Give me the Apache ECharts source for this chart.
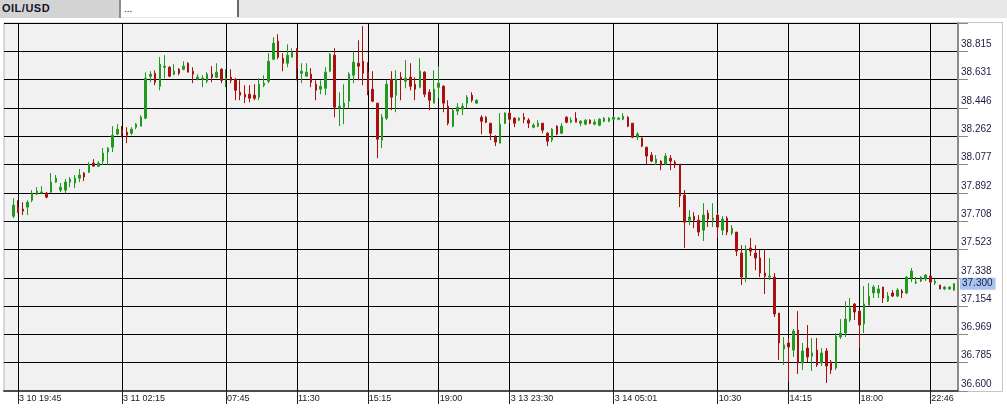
<!DOCTYPE html>
<html>
<head>
<meta charset="utf-8">
<script src="https://cdn.jsdelivr.net/npm/echarts@6/dist/echarts.min.js"></script>
<style>
html,body{margin:0;padding:0;background:#fff;}
#wrap{position:relative;width:1007px;height:415px;overflow:hidden;}
#c{position:absolute;left:0;top:0;width:1007px;height:415px;}
#hdr{position:absolute;left:0;top:0;width:1007px;height:18px;background:#e8e8e8;z-index:5;font-family:'Liberation Sans',Arial,sans-serif;}
#tab{position:absolute;left:0;top:0;width:121px;height:18px;box-sizing:border-box;background:#d3d3d3;border-right:2px solid #8c8c8c;font-weight:bold;font-size:11px;letter-spacing:0.5px;line-height:17px;padding-left:2px;color:#141428;}
#fld{position:absolute;left:121px;top:0;width:118px;height:17px;box-sizing:border-box;background:#fff;border-right:2px solid #6a6a6a;font-size:10px;line-height:17px;padding-left:3px;color:#222;}
</style>
</head>
<body>
<div id="wrap">
<div id="c"></div>
<div id="hdr"><div id="tab">OIL/USD</div><div id="fld">...</div></div>
</div>
<script>
// ---- data (15-minute candles) ----
const open = [37.740,37.799,37.786,37.799,37.844,37.884,37.890,37.890,37.897,37.962,37.910,37.910,37.962,37.956,37.988,38.021,38.027,38.086,38.066,38.099,38.158,38.190,38.275,38.301,38.288,38.281,38.320,38.327,38.379,38.652,38.672,38.587,38.711,38.711,38.666,38.698,38.698,38.737,38.685,38.633,38.633,38.620,38.666,38.646,38.698,38.633,38.646,38.633,38.548,38.535,38.535,38.529,38.516,38.594,38.620,38.764,38.881,38.770,38.737,38.777,38.829,38.672,38.653,38.666,38.600,38.568,38.574,38.685,38.790,38.444,38.451,38.490,38.659,38.737,38.750,38.679,38.568,38.477,38.236,38.379,38.633,38.529,38.646,38.620,38.646,38.600,38.581,38.679,38.548,38.477,38.581,38.587,38.457,38.327,38.425,38.438,38.477,38.529,38.477,38.385,38.385,38.346,38.255,38.216,38.346,38.412,38.379,38.366,38.385,38.366,38.320,38.327,38.346,38.281,38.236,38.327,38.281,38.385,38.353,38.379,38.346,38.340,38.366,38.340,38.333,38.359,38.359,38.372,38.372,38.372,38.385,38.346,38.255,38.249,38.190,38.138,38.086,38.099,38.079,38.118,38.092,38.079,37.877,37.714,37.740,37.714,37.649,37.760,37.714,37.747,37.649,37.727,37.630,37.636,37.499,37.337,37.532,37.499,37.467,37.369,37.343,37.343,37.108,36.874,36.913,36.867,36.997,36.783,36.880,36.828,36.867,36.783,36.861,36.789,36.750,36.952,36.978,37.063,37.167,37.121,37.037,37.160,37.239,37.239,37.278,37.187,37.239,37.219,37.252,37.239,37.337,37.304,37.317,37.330,37.349,37.304,37.291,37.265,37.265,37.258];
const close = [37.812,37.766,37.773,37.831,37.890,37.903,37.897,37.864,37.962,37.988,37.929,37.962,37.982,37.988,38.008,37.995,38.079,38.066,38.086,38.151,38.184,38.268,38.307,38.281,38.268,38.307,38.340,38.385,38.639,38.665,38.613,38.731,38.718,38.653,38.685,38.672,38.718,38.679,38.666,38.646,38.640,38.666,38.646,38.679,38.626,38.640,38.626,38.561,38.529,38.516,38.509,38.509,38.600,38.607,38.750,38.868,38.777,38.737,38.790,38.809,38.705,38.685,38.679,38.613,38.561,38.587,38.679,38.796,38.451,38.457,38.477,38.666,38.744,38.718,38.672,38.561,38.490,38.242,38.385,38.600,38.516,38.633,38.633,38.640,38.587,38.568,38.685,38.535,38.496,38.568,38.607,38.477,38.346,38.431,38.451,38.457,38.516,38.496,38.496,38.359,38.353,38.281,38.223,38.340,38.412,38.372,38.346,38.379,38.372,38.346,38.333,38.346,38.301,38.229,38.307,38.275,38.327,38.353,38.366,38.353,38.359,38.366,38.346,38.353,38.372,38.379,38.379,38.385,38.379,38.392,38.327,38.255,38.275,38.197,38.132,38.099,38.112,38.073,38.132,38.099,38.073,37.871,37.701,37.734,37.714,37.636,37.747,37.721,37.727,37.669,37.721,37.636,37.662,37.512,37.343,37.525,37.512,37.467,37.369,37.349,37.349,37.102,36.913,36.900,36.887,36.991,36.783,36.861,36.822,36.848,36.770,36.848,36.763,36.737,36.958,36.978,37.069,37.141,37.115,37.030,37.167,37.219,37.278,37.265,37.206,37.219,37.219,37.258,37.239,37.343,37.382,37.310,37.343,37.356,37.310,37.317,37.265,37.278,37.278,37.300];
const low = [37.727,37.760,37.747,37.747,37.831,37.877,37.884,37.857,37.890,37.956,37.897,37.890,37.929,37.923,37.962,37.969,38.021,38.066,38.060,38.073,38.073,38.158,38.268,38.255,38.216,38.268,38.307,38.327,38.372,38.613,38.594,38.561,38.639,38.646,38.659,38.659,38.691,38.679,38.607,38.626,38.581,38.607,38.613,38.640,38.607,38.581,38.607,38.496,38.496,38.477,38.483,38.496,38.496,38.581,38.607,38.757,38.764,38.685,38.711,38.777,38.626,38.607,38.653,38.581,38.496,38.535,38.529,38.679,38.385,38.327,38.340,38.444,38.607,38.626,38.594,38.529,38.483,38.118,38.184,38.366,38.431,38.418,38.496,38.574,38.561,38.496,38.574,38.516,38.431,38.477,38.509,38.418,38.333,38.320,38.399,38.399,38.444,38.483,38.474,38.274,38.346,38.236,38.197,38.216,38.340,38.346,38.320,38.359,38.346,38.314,38.314,38.320,38.281,38.197,38.223,38.268,38.275,38.346,38.346,38.353,38.327,38.333,38.340,38.333,38.327,38.353,38.353,38.366,38.366,38.366,38.320,38.249,38.236,38.190,38.079,38.092,38.073,38.040,38.073,38.040,38.053,37.799,37.532,37.682,37.662,37.610,37.578,37.669,37.669,37.597,37.616,37.616,37.616,37.480,37.291,37.310,37.480,37.388,37.343,37.232,37.323,37.082,36.802,36.770,36.659,36.822,36.711,36.737,36.789,36.731,36.757,36.763,36.652,36.711,36.737,36.939,36.952,37.050,37.063,36.880,36.978,37.160,37.206,37.206,37.174,37.180,37.213,37.213,37.206,37.232,37.310,37.297,37.310,37.317,37.304,37.291,37.265,37.258,37.262,37.252];
const high = [37.857,37.844,37.831,37.844,37.910,37.929,37.936,37.897,38.021,38.008,37.956,37.982,37.995,38.008,38.047,38.027,38.092,38.112,38.099,38.184,38.190,38.327,38.340,38.327,38.320,38.320,38.347,38.398,38.678,38.685,38.691,38.777,38.790,38.718,38.731,38.705,38.750,38.744,38.711,38.666,38.659,38.679,38.718,38.737,38.705,38.698,38.698,38.640,38.626,38.594,38.594,38.600,38.639,38.659,38.803,38.907,38.926,38.803,38.861,38.835,38.835,38.737,38.737,38.705,38.626,38.626,38.711,38.803,38.835,38.548,38.600,38.679,38.809,38.887,38.979,38.744,38.685,38.477,38.405,38.626,38.685,38.691,38.679,38.757,38.737,38.646,38.770,38.685,38.568,38.691,38.718,38.594,38.496,38.444,38.477,38.477,38.529,38.548,38.500,38.398,38.392,38.346,38.268,38.412,38.418,38.418,38.385,38.385,38.412,38.379,38.346,38.366,38.346,38.288,38.314,38.333,38.346,38.392,38.385,38.418,38.366,38.372,38.372,38.372,38.379,38.385,38.385,38.392,38.385,38.412,38.392,38.346,38.288,38.255,38.190,38.158,38.138,38.105,38.151,38.138,38.105,38.079,37.910,37.779,37.766,37.747,37.825,37.779,37.825,37.760,37.740,37.740,37.682,37.636,37.551,37.551,37.597,37.551,37.519,37.519,37.467,37.369,37.108,36.952,36.945,37.004,37.121,36.913,37.030,36.945,36.945,36.880,36.880,36.802,36.978,37.069,37.186,37.206,37.173,37.128,37.284,37.304,37.291,37.291,37.278,37.245,37.258,37.271,37.265,37.349,37.402,37.343,37.349,37.362,37.349,37.330,37.291,37.284,37.280,37.304];

// time-axis ticks: candle index -> label
const xTickIdx = [1, 23, 45, 60, 75, 90, 105, 127, 149, 164, 179, 194];
const xTickLabels = ['3 10 19:45', '3 11 02:15', '07:45', '11:30', '15:15', '19:00', '3 13 23:30', '3 14 05:01', '10:30', '14:15', '18:00', '22:46'];

// price axis
const yMin = 36.6;
const yStep = 0.18458333;
const yTickLabels = ['36.600', '36.785', '36.969', '37.154', '37.338', '37.523', '37.708', '37.892', '38.077', '38.262', '38.446', '38.631', '38.815'];

// ---- chart ----
const candles = open.map((o, i) => [i, o, close[i], low[i], high[i]]);
const lastPrice = close[close.length - 1];
const FONT = "'Liberation Sans', Arial, sans-serif";
const UP = '#1f9a1f', DOWN = '#a81010';

const vLines = xTickIdx.map(v => ({xAxis: v, lineStyle: {color: '#000', width: 1, type: 'solid'}, label: {show: false}}));
const priceLine = {
  yAxis: lastPrice,
  lineStyle: {color: 'rgba(0,0,0,0)', width: 0},
  label: {
    show: true, position: 'end', distance: 2, formatter: () => lastPrice.toFixed(3),
    backgroundColor: '#a9c4ef', color: '#1c1c44', fontSize: 10, fontFamily: FONT, padding: [1, 3, 1, 2]
  }
};

const chart = echarts.init(document.getElementById('c'), null, {renderer: 'canvas'});
chart.setOption({
  animation: false,
  backgroundColor: '#ffffff',
  graphic: [{
    type: 'rect', left: 958, top: 22, z: -1, silent: true,
    shape: {width: 44, height: 369},
    style: {fill: '#ffffff', stroke: '#c4c4c4', lineWidth: 1}
  }],
  grid: {left: 4, right: 49, top: 23, bottom: 24, show: true, backgroundColor: '#f1f1f1', borderColor: '#b4b4b4', borderWidth: 1},
  xAxis: {
    type: 'value', min: -1.97, max: 199.85, position: 'bottom',
    axisLine: {show: true, onZero: false, lineStyle: {color: '#4d4d4d', width: 2}},
    axisTick: {show: true, customValues: xTickIdx, length: 13, lineStyle: {color: '#222', width: 1}},
    axisLabel: {
      show: true, customValues: xTickIdx, align: 'left', margin: 3, padding: [0, 0, 0, 1],
      color: '#1a1a1a', fontSize: 9, fontFamily: FONT,
      formatter: v => { const k = xTickIdx.indexOf(Math.round(v)); return k >= 0 ? xTickLabels[k] : ''; }
    },
    splitLine: {show: false}
  },
  yAxis: {
    type: 'value', position: 'right', min: yMin, max: yMin + 13 * yStep, interval: yStep,
    axisLine: {show: true, onZero: false, lineStyle: {color: '#8a8a8a', width: 2}},
    axisTick: {show: true, length: 10, lineStyle: {color: '#8a8a8a', width: 1}},
    axisLabel: {
      margin: 3, verticalAlign: 'bottom', align: 'left', padding: [0, 0, 2, 0],
      fontSize: 10, fontFamily: FONT, color: '#1c1c44', showMaxLabel: false,
      formatter: v => { const k = Math.round((v - yMin) / yStep); return yTickLabels[k] || ''; }
    },
    splitLine: {show: true, showMaxLine: false, lineStyle: {color: '#000', width: 1}}
  },
  series: [{
    type: 'candlestick',
    data: candles,
    barWidth: 2,
    clip: false,
    z: 3,
    itemStyle: {color: UP, color0: DOWN, borderColor: UP, borderColor0: DOWN, borderWidth: 1},
    markLine: {
      silent: true, symbol: ['none', 'none'], z: 1,
      data: vLines.concat([priceLine])
    }
  }]
});
</script>
</body>
</html>
